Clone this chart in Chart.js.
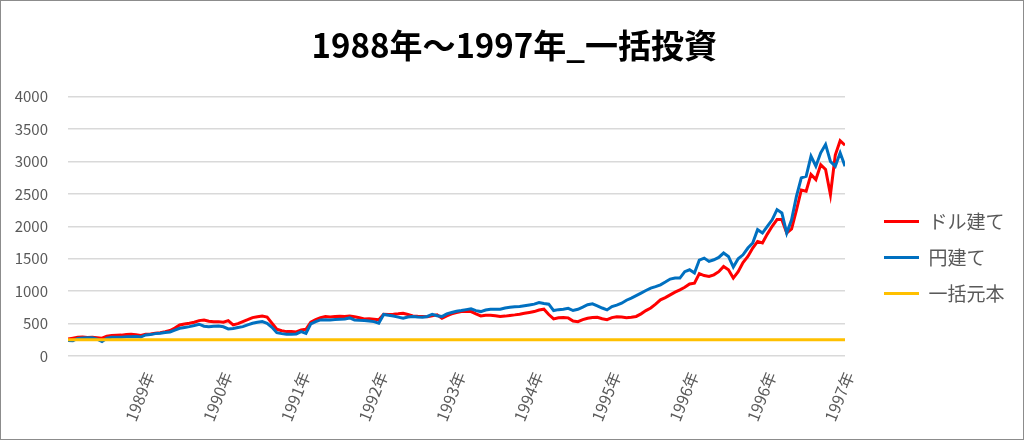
<!DOCTYPE html>
<html>
<head>
<meta charset="utf-8">
<script src="https://cdn.jsdelivr.net/npm/chart.js@4/dist/chart.umd.min.js"></script>
<style>
  body { margin: 0; background: #fff; }
  #wrap { width: 1024px; height: 440px; box-sizing: border-box; border: 1px solid #8c8c8c; }
  canvas { display: block; }
</style>
</head>
<body>
<div id="wrap"><canvas id="chart" width="1022" height="438"></canvas></div>
<script>
// values, roughly one point every 5px (161 points)
const usdValues = [
  262, 275, 288, 292, 286, 290, 282, 275, 305, 318,
  320, 322, 330, 335, 328, 318, 335, 340, 350, 360,
  375, 392, 430, 478, 492, 505, 520, 546, 556, 535,
  528, 530, 520, 545, 479, 500, 530, 560, 592, 605,
  618, 600, 505, 412, 390, 376, 378, 372, 400, 412,
  521, 560, 590, 608, 600, 608, 612, 608, 618, 605,
  590, 572, 575, 568, 560, 644, 640, 644, 650, 660,
  640, 618, 612, 608, 605, 620, 634, 583, 620, 649,
  670, 685, 690, 685, 650, 618, 630, 630, 620, 608,
  615, 625, 634, 645, 660, 672, 685, 710, 722, 640,
  572, 590, 592, 588, 540, 530, 560, 583, 595, 598,
  575, 560, 592, 605, 600, 590, 598, 610, 650, 700,
  740, 800, 866, 900, 943, 985, 1020, 1060, 1110, 1124,
  1270, 1240, 1226, 1252, 1300, 1381, 1330, 1201, 1300, 1440,
  1535, 1665, 1767, 1742, 1880, 2000, 2103, 2103, 1896, 1960,
  2250, 2560, 2540, 2800, 2721, 2950, 2876, 2489, 3100, 3320, 3250
];
const jpyValues = [
  240, 235, 270, 278, 280, 282, 260, 225, 275, 289,
  289, 290, 295, 298, 300, 292, 325, 330, 345, 350,
  362, 371, 400, 428, 440, 453, 470, 490, 460, 453,
  458, 464, 450, 417, 425, 440, 453, 480, 505, 520,
  530, 505, 443, 360, 345, 335, 335, 340, 376, 350,
  495, 530, 557, 560, 557, 562, 567, 572, 587, 556,
  550, 546, 540, 530, 505, 640, 630, 618, 600, 583,
  600, 608, 600, 598, 610, 644, 620, 608, 650, 670,
  690, 701, 715, 727, 700, 685, 710, 722, 722, 722,
  740, 753, 760, 763, 775, 788, 800, 824, 810, 799,
  701, 715, 722, 735, 701, 720, 753, 790, 804, 773,
  740, 711, 763, 785, 814, 860, 892, 930, 969, 1010,
  1047, 1070, 1098, 1140, 1186, 1201, 1201, 1300, 1330, 1279,
  1480, 1510, 1458, 1484, 1520, 1588, 1535, 1371, 1500, 1560,
  1665, 1742, 1948, 1896, 2000, 2100, 2257, 2206, 1896, 2100,
  2463, 2747, 2772, 3081, 2927, 3133, 3262, 3000, 2927, 3133, 2927
];
// principal is flat over the whole period
const principalX = [0, 160];
const principalValues = [250, 250];

const seriesNames = ['ドル建て', '円建て', '一括元本'];
const yearLabels = ['1989年', '1990年', '1991年', '1992年', '1993年', '1994年', '1995年', '1996年', '1996年', '1997年'];
const labelEvery = 16;

const FONT = "'Noto Sans CJK JP', 'Noto Sans', sans-serif";
Chart.defaults.font.family = FONT;
Chart.defaults.color = '#595959';

const toPoints = (vals) => vals.map((v, i) => ({ x: i, y: v }));

const ctx = document.getElementById('chart').getContext('2d');
new Chart(ctx, {
  type: 'line',
  data: {
    datasets: [
      {
        label: seriesNames[0],
        data: toPoints(usdValues),
        borderColor: '#ff0000',
        backgroundColor: '#ff0000',
        borderWidth: 3,
        pointRadius: 0,
        order: 2
      },
      {
        label: seriesNames[1],
        data: toPoints(jpyValues),
        borderColor: '#0070c0',
        backgroundColor: '#0070c0',
        borderWidth: 3,
        pointRadius: 0,
        order: 1
      },
      {
        label: seriesNames[2],
        data: principalX.map((x, i) => ({ x: x, y: principalValues[i] })),
        borderColor: '#ffc000',
        backgroundColor: '#ffc000',
        borderWidth: 3,
        pointRadius: 0,
        order: 0
      }
    ]
  },
  options: {
    responsive: false,
    animation: false,
    devicePixelRatio: 1,
    layout: { padding: { left: 13, right: 8.5, top: 0, bottom: 8 } },
    plugins: {
      title: {
        display: true,
        text: '1988年～1997年_一括投資',
        color: '#000',
        font: { size: 33, weight: 'bold' },
        padding: { top: 25, bottom: 31 }
      },
      legend: {
        position: 'right',
        // blank title only pushes the items down to where they sit in the picture
        title: { display: true, text: ' ', font: { size: 10 }, padding: { top: 0, bottom: 71 } },
        labels: {
          usePointStyle: true,
          pointStyle: 'line',
          pointStyleWidth: 35,
          padding: 17,
          color: '#595959',
          font: { size: 19 },
          sort: (a, b) => a.datasetIndex - b.datasetIndex
        }
      },
      tooltip: { enabled: false }
    },
    scales: {
      x: {
        type: 'linear',
        min: 0,
        max: 160,
        grid: { display: false, drawTicks: false },
        border: { display: false },
        ticks: {
          stepSize: labelEvery,
          autoSkip: false,
          minRotation: 68,
          maxRotation: 68,
          padding: 13,
          labelOffset: 4,
          font: { size: 16 },
          callback: (v) => (v > 0 ? yearLabels[v / labelEvery - 1] : '')
        },
        afterFit: (s) => { s.height = 75; }
      },
      y: {
        min: 0,
        max: 4000,
        grid: { color: '#d9d9d9', lineWidth: 1.5, drawTicks: false },
        border: { display: false },
        ticks: { stepSize: 500, padding: 20, font: { size: 15 }, callback: (v) => v },
        afterFit: (s) => { s.width = 54; }
      },
      // empty axis, only keeps a gap between the plot and the legend
      gap: {
        type: 'linear',
        position: 'right',
        grid: { display: false },
        border: { display: false },
        ticks: { display: false },
        afterFit: (s) => { s.width = 22; }
      }
    }
  }
});
</script>
</body>
</html>
